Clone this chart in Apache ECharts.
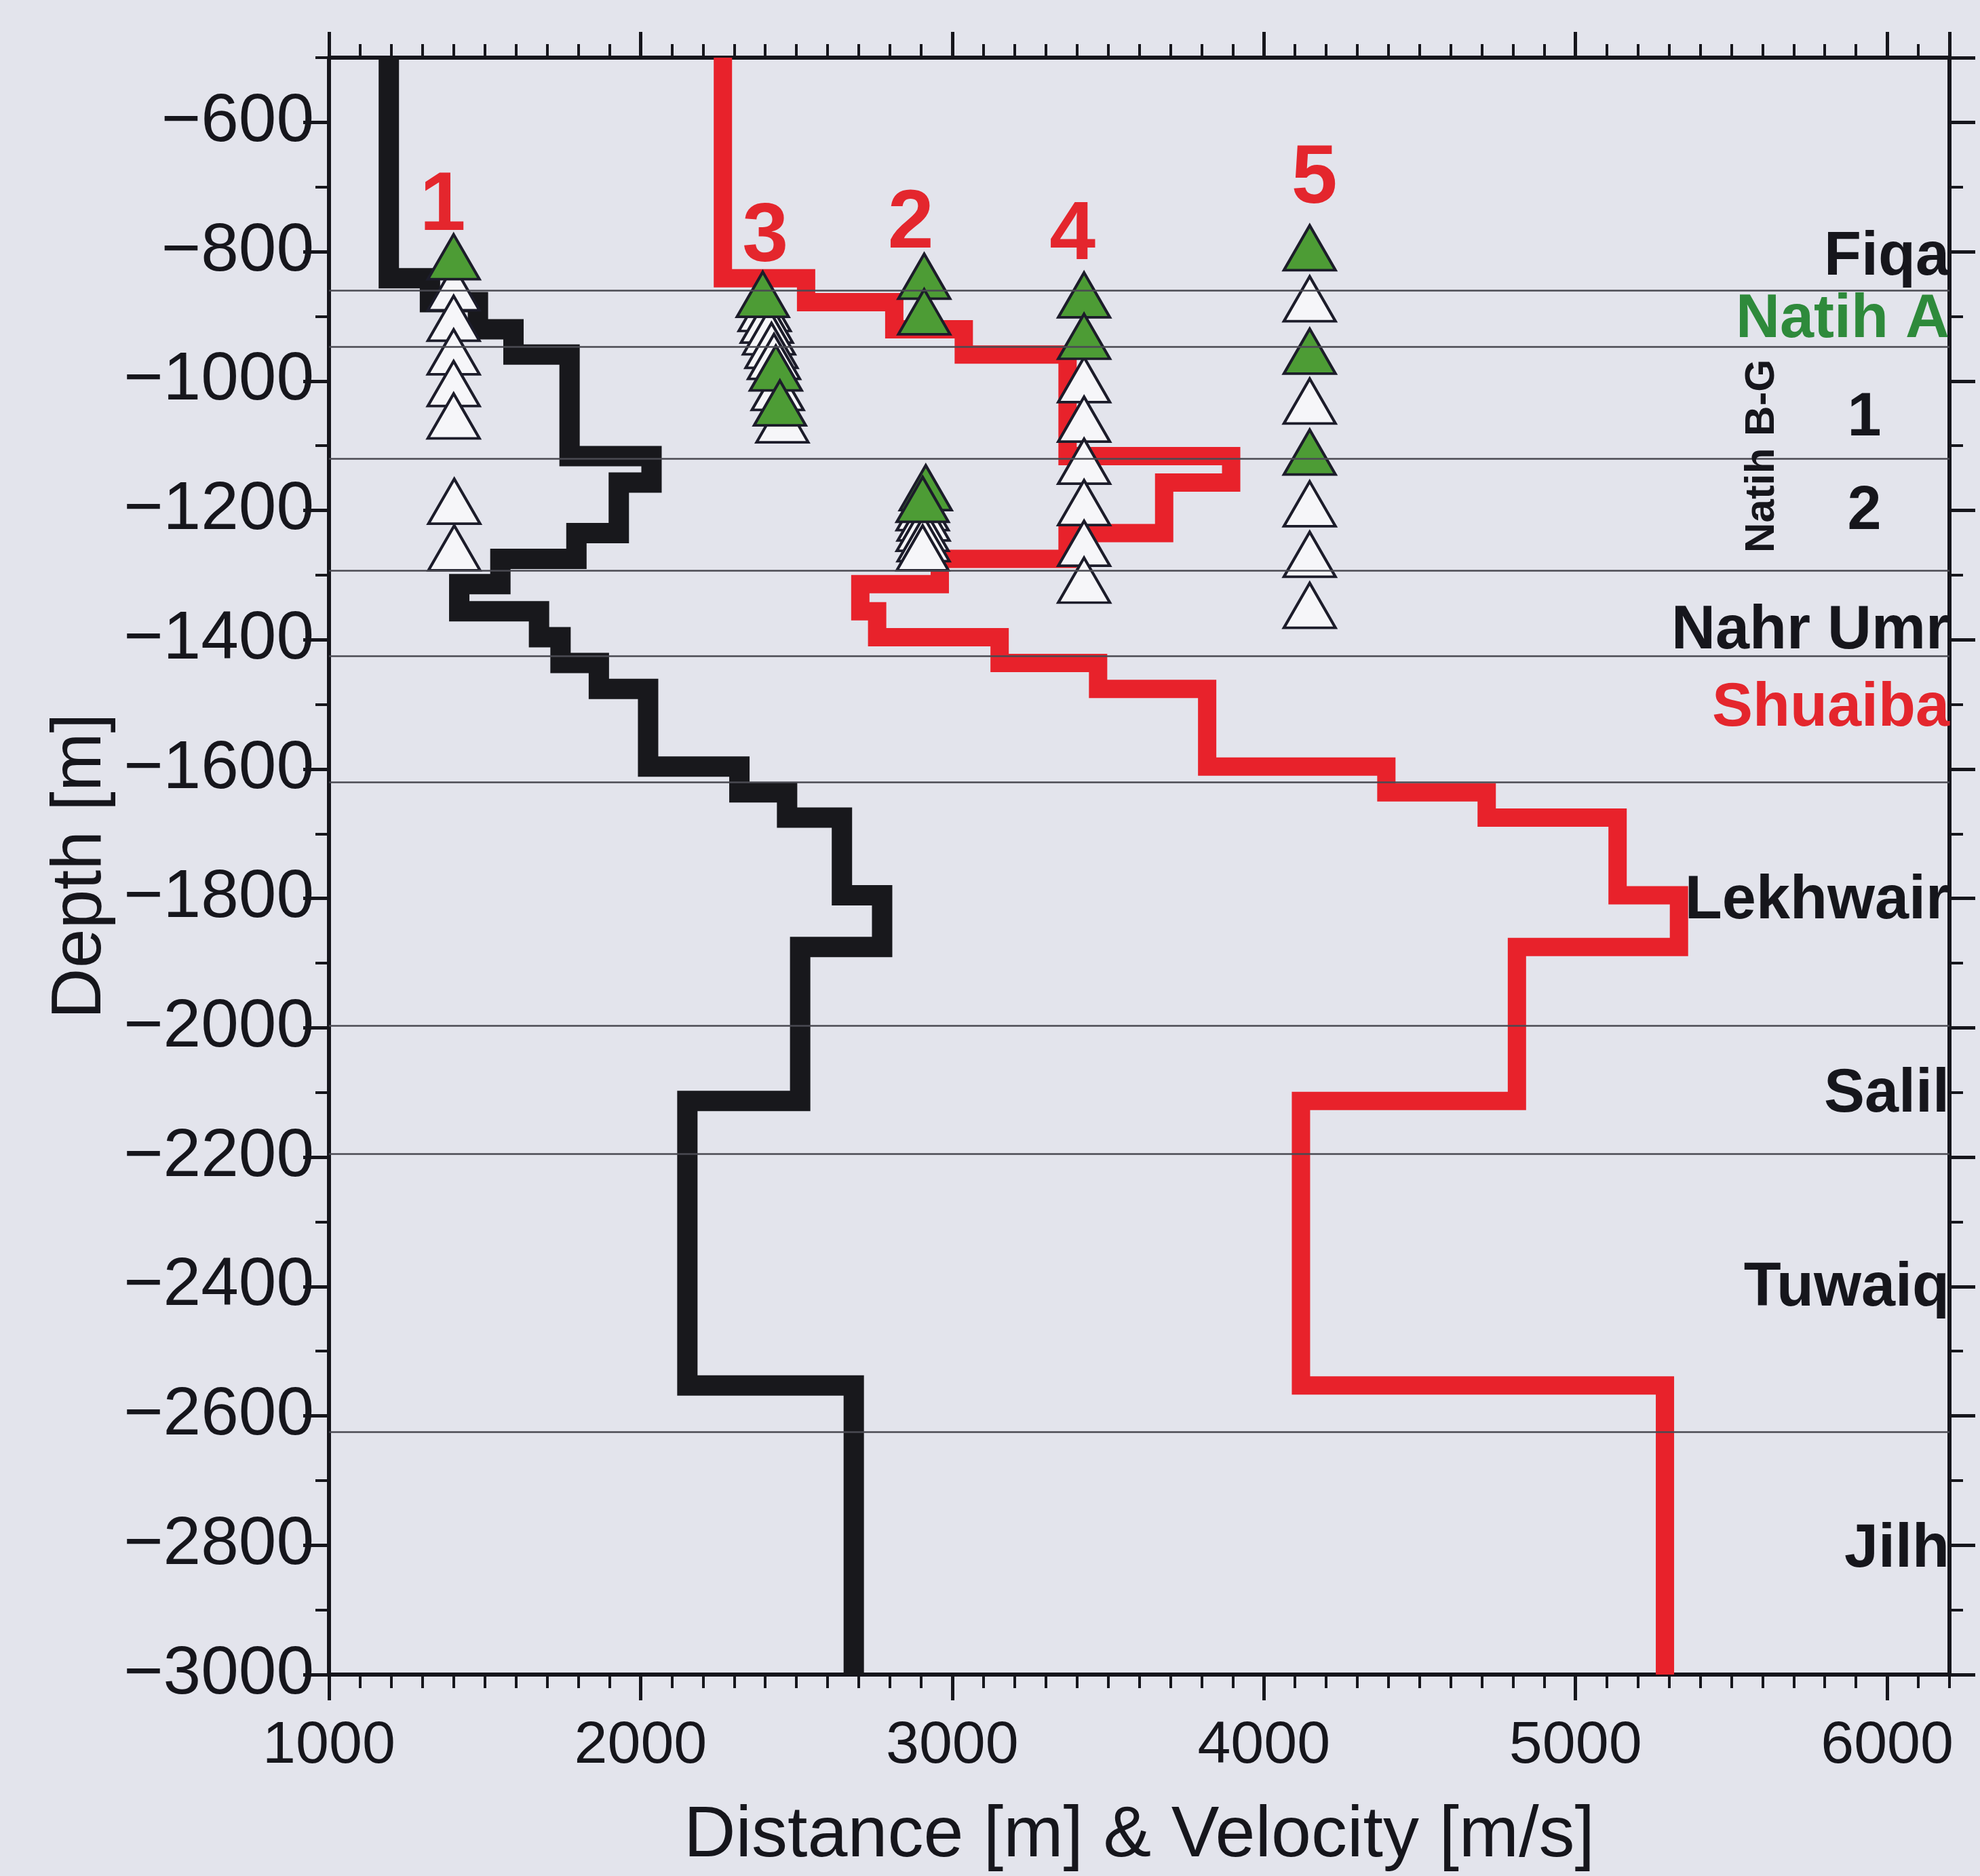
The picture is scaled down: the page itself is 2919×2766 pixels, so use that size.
<!DOCTYPE html>
<html><head><meta charset="utf-8">
<script src="https://cdn.jsdelivr.net/npm/echarts@6/dist/echarts.min.js"></script>
<style>html,body{margin:0;padding:0;background:#e3e4ec}#c{width:2919px;height:2766px}</style>
</head><body><div id="c"></div>
<script>
// ---- velocity model: layer tops (m, negative down) and layer velocities (m/s)
const layerTops = [-500, -841, -878, -920, -959, -1116, -1157, -1235, -1275, -1314, -1356, -1396, -1436, -1476, -1596, -1636, -1675, -1795, -1875, -2113, -2553];
const modelBottom = -3000;
const velocityBlack = [1192, 1324, 1478, 1592, 1772, 2035, 1930, 1794, 1550, 1418, 1674, 1743, 1866, 2024, 2317, 2470, 2646, 2775, 2512, 2150, 2684];
const velocityRed = [2264, 2531, 2814, 3037, 3370, 3895, 3680, 3370, 2960, 2705, 2759, 3152, 3468, 3818, 4393, 4715, 5135, 5332, 4812, 4119, 5287];

// ---- formations
const formationBoundaries = [-860, -947, -1120, -1293, -1425, -1620, -1997, -2195, -2625];
const formationNames = ['Fiqa', 'Natih A', 'Nahr Umr', 'Shuaiba', 'Lekhwair', 'Salil', 'Tuwaiq', 'Jilh'];
const formationLabelDepths = [-810, -906, -1387, -1507, -1805, -2104, -2403, -2807];
const natihGroupName = 'Natih B-G';
const natihGroupPos = [5598, -1116];
const natihSubunits = ['1', '2'];
const natihSubunitPos = [[5927, -1058], [5927, -1203]];

// ---- wells (distance [m], depth [m]) of picks
const wellNames = ['1', '3', '2', '4', '5'];
const wellLabelPos = [[1365, -731], [2400, -779], [2867, -758], [3386, -776], [4162, -689]];
const greenPicks = [
  [1400, -808],
  [2392, -866], [2434, -980], [2447, -1034],
  [2910, -838], [2910, -893], [2915, -1165], [2905, -1183],
  [3423, -867], [3423, -931],
  [4147, -794], [4147, -954], [4147, -1110]
];
const whitePicks = [
  [1400, -856], [1400, -903], [1400, -955], [1400, -1004], [1400, -1054], [1402, -1186], [1402, -1258],
  [2398, -888], [2405, -906], [2412, -924], [2420, -945], [2428, -962], [2440, -1010], [2455, -1060],
  [2905, -1196], [2908, -1212], [2905, -1228], [2908, -1244], [2905, -1258],
  [3423, -998], [3423, -1059], [3423, -1124], [3423, -1188], [3423, -1251], [3423, -1308],
  [4147, -873], [4147, -1031], [4147, -1190], [4147, -1268], [4147, -1347]
];

// ---- axes
const xMin = 1000, xMax = 6200, xMajor = 1000, xMinor = 100;
const yMin = -3000, yMax = -500, yMajor = 200, yMinor = 100;

const FONT = '"Liberation Sans", Arial, Helvetica, sans-serif';
const INK = '#16161c';
const RED = '#e4262d';
const GREEN_TXT = '#2e8a3b';

function profile(vels) {
  const pts = layerTops.map((t, i) => [vels[i], t]);
  pts.push([vels[vels.length - 1], modelBottom]);
  return pts;
}
const fmtNum = v => (v < 0 ? '\u2212' : '') + String(Math.abs(v));

function xAxisDef(pos, interval, tickLen, main) {
  return {
    type: 'value', min: xMin, max: xMax, interval: interval, position: pos,
    axisLine: { show: main, onZero: false, lineStyle: { color: INK, width: 6 } },
    axisTick: { show: true, inside: false, length: tickLen, lineStyle: { color: INK, width: main ? 5 : 4 } },
    axisLabel: { show: main && pos === 'bottom', showMaxLabel: false, formatter: fmtNum, margin: 62, fontSize: 88, color: INK, fontFamily: FONT },
    splitLine: { show: false },
    name: main && pos === 'bottom' ? 'Distance [m] & Velocity [m/s]' : '',
    nameLocation: 'middle', nameGap: 186,
    nameTextStyle: { fontSize: 106, color: INK, fontFamily: FONT }
  };
}
function yAxisDef(pos, interval, tickLen, main) {
  return {
    type: 'value', min: yMin, max: yMax, interval: interval, position: pos,
    axisLine: { show: main, onZero: false, lineStyle: { color: INK, width: 6 } },
    axisTick: { show: true, inside: false, length: tickLen, lineStyle: { color: INK, width: main ? 5 : 4 } },
    axisLabel: { show: main && pos === 'left', showMaxLabel: false, formatter: fmtNum, margin: 22, fontSize: 100, color: INK, fontFamily: FONT },
    splitLine: { show: false },
    name: main && pos === 'left' ? 'Depth [m]' : '',
    nameLocation: 'middle', nameGap: 309,
    nameTextStyle: { fontSize: 104, color: INK, fontFamily: FONT }
  };
}

const triSize = [76, 66];
const textItem = { opacity: 1, color: 'transparent' };

const option = {
  backgroundColor: '#e3e4ec',
  animation: false,
  grid: { left: 485, right: 45, top: 85, bottom: 296, containLabel: false },
  xAxis: [
    xAxisDef('bottom', xMajor, 38, true),
    xAxisDef('bottom', xMinor, 20, false),
    xAxisDef('top', xMajor, 38, true),
    xAxisDef('top', xMinor, 20, false)
  ],
  yAxis: [
    yAxisDef('left', yMajor, 38, true),
    yAxisDef('left', yMinor, 20, false),
    yAxisDef('right', yMajor, 38, true),
    yAxisDef('right', yMinor, 20, false)
  ],
  series: [
    {
      name: 'boundaries', type: 'line', data: [], z: 1, silent: true,
      markLine: {
        symbol: 'none', silent: true, animation: false,
        label: { show: false },
        lineStyle: { color: '#4a4a52', width: 2.5, type: 'solid', opacity: 1 },
        data: formationBoundaries.map(d => ({ yAxis: d }))
      }
    },
    {
      name: 'black', type: 'line', step: 'start', data: profile(velocityBlack),
      showSymbol: false, z: 2, clip: true,
      lineStyle: { color: '#18181c', width: 30, join: 'miter', cap: 'butt', opacity: 1 }
    },
    {
      name: 'red', type: 'line', step: 'start', data: profile(velocityRed),
      showSymbol: false, z: 2, clip: true,
      lineStyle: { color: '#e8222b', width: 27, join: 'miter', cap: 'butt', opacity: 1 }
    },
    {
      name: 'picks open', type: 'scatter', data: whitePicks, z: 3,
      symbol: 'triangle', symbolSize: triSize,
      itemStyle: { color: '#f6f6f9', borderColor: '#1c1c2a', borderWidth: 4, opacity: 1 }
    },
    {
      name: 'picks filled', type: 'scatter', data: greenPicks, z: 4,
      symbol: 'triangle', symbolSize: triSize,
      itemStyle: { color: '#4d9c35', borderColor: '#1c1c2a', borderWidth: 4, opacity: 1 }
    },
    {
      name: 'well ids', type: 'scatter', z: 5, symbolSize: 0, clip: false,
      itemStyle: textItem,
      data: wellLabelPos.map((p, i) => ({ value: p, name: wellNames[i] })),
      label: {
        show: true, position: 'inside', formatter: p => p.name,
        fontSize: 122, fontWeight: 'bold', color: RED, fontFamily: FONT
      }
    },
    {
      name: 'formations', type: 'scatter', z: 5, symbolSize: 0, clip: false,
      itemStyle: textItem,
      data: formationNames.map((n, i) => ({
        value: [xMax, formationLabelDepths[i]], name: n,
        label: { color: n === 'Shuaiba' ? RED : (n === 'Natih A' ? GREEN_TXT : INK) }
      })),
      label: {
        show: true, position: 'left', distance: 0, offset: [0, 0], formatter: p => p.name,
        fontSize: 90, fontWeight: 'bold', fontFamily: FONT
      }
    },
    {
      name: 'natih group', type: 'scatter', z: 5, symbolSize: 0, clip: false,
      itemStyle: textItem,
      data: [{ value: natihGroupPos, name: natihGroupName }],
      label: {
        show: true, position: 'inside', rotate: 90, formatter: p => p.name,
        fontSize: 62, fontWeight: 'bold', color: INK, fontFamily: FONT
      }
    },
    {
      name: 'natih subunits', type: 'scatter', z: 5, symbolSize: 0, clip: false,
      itemStyle: textItem,
      data: natihSubunitPos.map((p, i) => ({ value: p, name: natihSubunits[i] })),
      label: {
        show: true, position: 'inside', formatter: p => p.name,
        fontSize: 90, fontWeight: 'bold', color: INK, fontFamily: FONT
      }
    }
  ]
};

const chart = echarts.init(document.getElementById('c'), null, { renderer: 'canvas' });
chart.setOption(option);
</script>
</body></html>
